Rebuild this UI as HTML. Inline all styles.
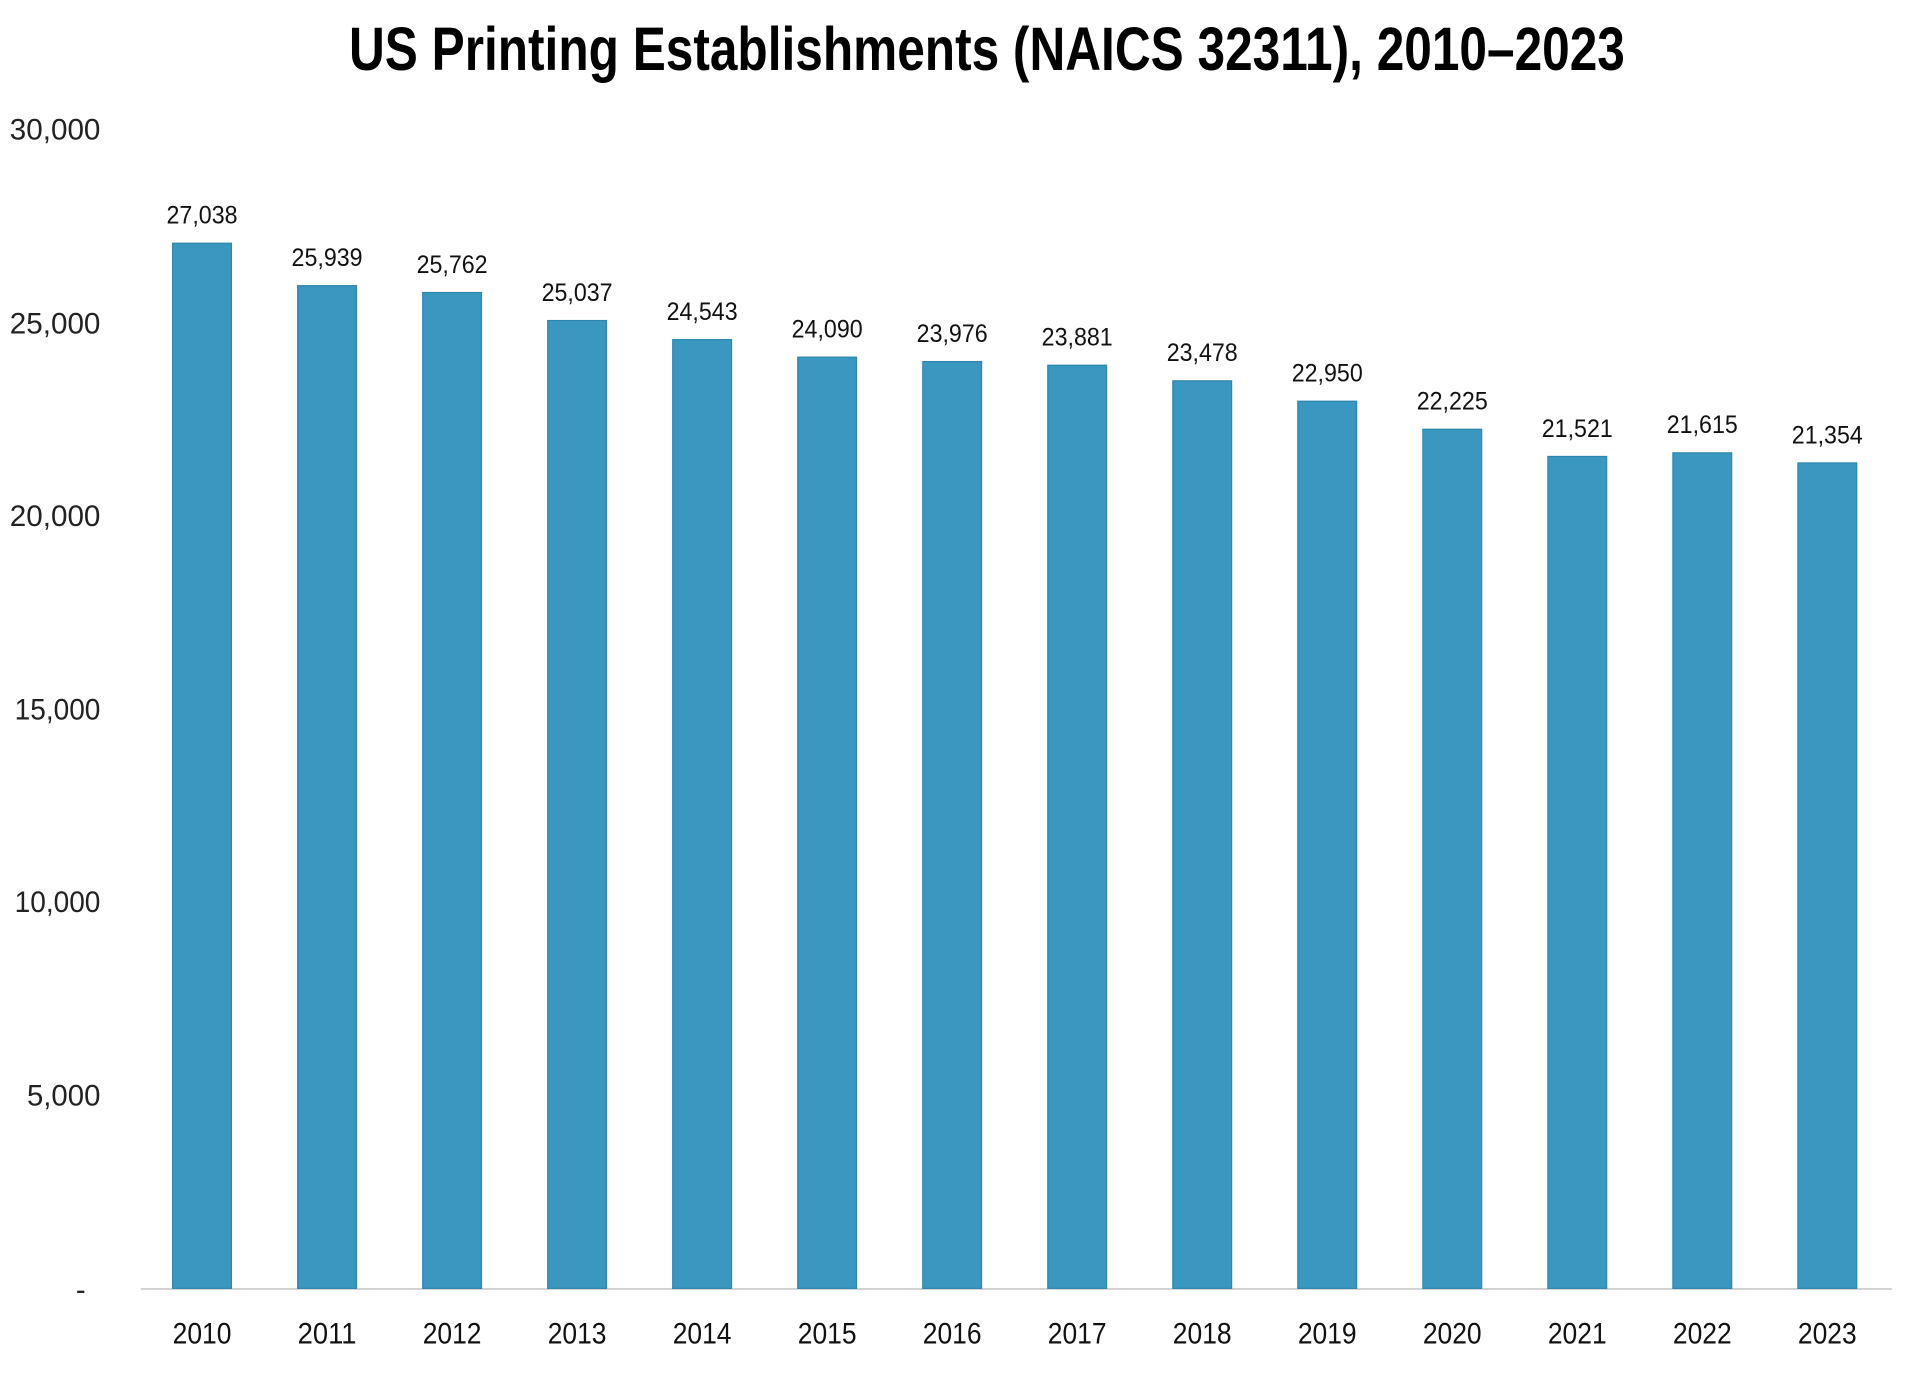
<!DOCTYPE html>
<html><head><meta charset="utf-8"><style>html,body{margin:0;padding:0;background:#fff;width:1920px;height:1395px;overflow:hidden}svg{display:block}</style></head>
<body>
<svg width="1920" height="1395" viewBox="0 0 1568 1138" preserveAspectRatio="none" xmlns="http://www.w3.org/2000/svg" font-family="'Liberation Sans', sans-serif">
<text x="806" y="57" text-anchor="middle" font-size="50" font-weight="bold" textLength="1042" lengthAdjust="spacingAndGlyphs" fill="#000">US Printing Establishments (NAICS 32311), 2010–2023</text>
<g font-size="24" fill="#222" text-anchor="end">
<text x="82" y="114" textLength="74" lengthAdjust="spacingAndGlyphs">30,000</text>
<text x="82" y="272" textLength="74" lengthAdjust="spacingAndGlyphs">25,000</text>
<text x="82" y="429" textLength="74" lengthAdjust="spacingAndGlyphs">20,000</text>
<text x="82" y="587" textLength="70" lengthAdjust="spacingAndGlyphs">15,000</text>
<text x="82" y="744" textLength="70" lengthAdjust="spacingAndGlyphs">10,000</text>
<text x="82" y="902" textLength="60" lengthAdjust="spacingAndGlyphs">5,000</text>
<text x="70" y="1060">-</text>
</g>
<line x1="115" y1="1051.5" x2="1545" y2="1051.5" stroke="#d0d0d0" stroke-width="1.5"/>
<g id="bars" fill="#3A98C0" stroke="#2f86ad" stroke-width="1"></g>
<g id="lbl" font-size="20" fill="#111" text-anchor="middle"></g>
<g id="xl" font-size="24" fill="#111" text-anchor="middle"></g>
<script>
var d=[27038,25939,25762,25037,24543,24090,23976,23881,23478,22950,22225,21521,21615,21354];
var ns="http://www.w3.org/2000/svg",b=document.getElementById('bars'),l=document.getElementById('lbl'),x=document.getElementById('xl');
d.forEach(function(v,i){var c=165+i*102.1,t=1051-v*946/30000;
var r=document.createElementNS(ns,'rect');r.setAttribute('x',c-24);r.setAttribute('y',t);r.setAttribute('width',48);r.setAttribute('height',1051-t);b.appendChild(r);
var s=document.createElementNS(ns,'text');s.setAttribute('x',c);s.setAttribute('y',t-16);s.setAttribute('textLength',58);s.setAttribute('lengthAdjust','spacingAndGlyphs');s.textContent=v.toLocaleString('en-US');l.appendChild(s);
var y=document.createElementNS(ns,'text');y.setAttribute('x',c);y.setAttribute('y',1096);y.setAttribute('textLength',48);y.setAttribute('lengthAdjust','spacingAndGlyphs');y.textContent=2010+i;x.appendChild(y);});
</script>
</svg>
</body></html>
